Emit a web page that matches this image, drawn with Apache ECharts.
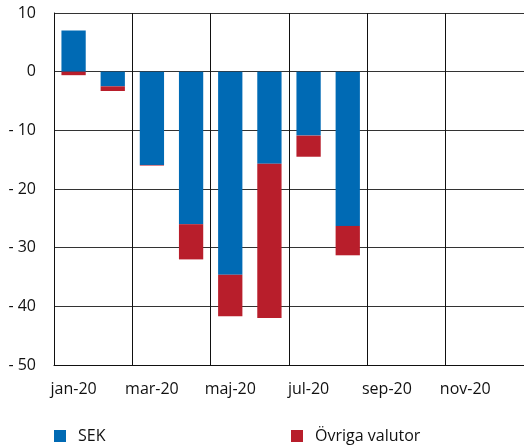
<!DOCTYPE html>
<html>
<head>
<meta charset="utf-8">
<script src="https://cdn.jsdelivr.net/npm/echarts@6/dist/echarts.min.js"></script>
<style>
  html, body { margin: 0; padding: 0; background: #fff; }
  #chart { width: 524px; height: 448px; }
</style>
</head>
<body>
<div id="chart"></div>
<script>
const months = ['jan-20', 'feb-20', 'mar-20', 'apr-20', 'maj-20', 'jun-20',
  'jul-20', 'aug-20', 'sep-20', 'okt-20', 'nov-20', 'dec-20']
const sek = [7.0, -2.5, -15.9, -26.0, -34.6, -15.7, -10.9, -26.3, null, null, null, null]
const ovriga = [-0.6, -0.8, -0.1, -6.0, -7.1, -26.3, -3.6, -5.0, null, null, null, null]

const font = '"Open Sans", sans-serif'
const ink = '#111'

const chart = echarts.init(document.getElementById('chart'))

const legendBase = {
  top: 423,
  itemWidth: 12,
  itemHeight: 12,
  icon: 'rect',
  textStyle: { fontFamily: font, fontSize: 16, color: ink, padding: [0, 0, 0, 7] }
}

chart.setOption({
  animation: false,
  legend: [
    Object.assign({ left: 49, data: ['SEK'] }, legendBase),
    Object.assign({ left: 286, data: ['Övriga valutor'] }, legendBase)
  ],
  grid: { left: 54, right: -4, top: 13, bottom: 83 },
  xAxis: {
    type: 'category',
    data: months,
    axisLine: { onZero: false, lineStyle: { color: ink, width: 1 } },
    axisTick: { show: false },
    axisLabel: { interval: 1, margin: 16, fontFamily: font, fontSize: 16, color: ink },
    splitLine: { show: true, interval: 1, lineStyle: { color: ink, width: 1 } }
  },
  yAxis: {
    type: 'value',
    min: -50,
    max: 10,
    interval: 10,
    axisLine: { show: true, lineStyle: { color: ink, width: 1 } },
    axisTick: { show: false },
    axisLabel: {
      margin: 18,
      fontFamily: font,
      fontSize: 16,
      color: ink,
      formatter: v => (v < 0 ? '- ' + Math.abs(v) : String(v))
    },
    splitLine: { lineStyle: { color: '#333', width: 1 } }
  },
  series: [
    {
      name: 'SEK',
      type: 'bar',
      stack: 'total',
      data: sek,
      barWidth: '62%',
      itemStyle: { color: '#006AB4' }
    },
    {
      name: 'Övriga valutor',
      type: 'bar',
      stack: 'total',
      data: ovriga,
      itemStyle: { color: '#B81E2B' }
    }
  ]
})
</script>
</body>
</html>
